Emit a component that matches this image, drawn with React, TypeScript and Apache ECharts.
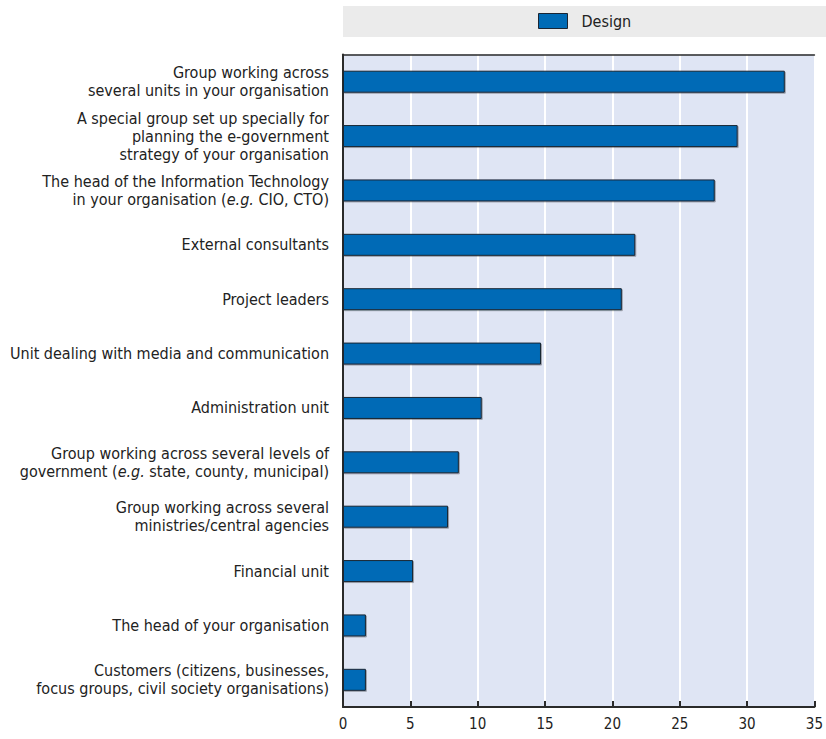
import React, { useEffect, useRef } from "react";
import * as echarts from "echarts";

const categories: string[] = [
  "Group working across\nseveral units in your organisation",
  "A special group set up specially for\nplanning the e-government\nstrategy of your organisation",
  "The head of the Information Technology\nin your organisation ({i|e.g.} CIO, CTO)",
  "External consultants",
  "Project leaders",
  "Unit dealing with media and communication",
  "Administration unit",
  "Group working across several levels of\ngovernment ({i|e.g.} state, county, municipal)",
  "Group working across several\nministries/central agencies",
  "Financial unit",
  "The head of your organisation",
  "Customers (citizens, businesses,\nfocus groups, civil society organisations)",
];

const seriesName = "Design";
const designValues: number[] = [32.8, 29.3, 27.6, 21.7, 20.7, 14.7, 10.3, 8.6, 7.8, 5.2, 1.7, 1.7];

const FONT = "'DejaVu Sans Condensed', 'Liberation Sans', sans-serif";

export default function App() {
  const ref = useRef<HTMLDivElement>(null);
  useEffect(() => {
    document.body.style.margin = "0";
    if (!ref.current) return;
    const chart = echarts.init(ref.current, undefined, { renderer: "svg" });
    const textColor = "#222222";
    chart.setOption({
      animation: false,
      graphic: [
        {
          type: "rect",
          left: 343,
          top: 6,
          shape: { width: 483, height: 31 },
          style: { fill: "#ebebeb" },
          z: -1,
        },
      ],
      legend: {
        data: [seriesName],
        left: 533,
        top: 8,
        itemWidth: 29,
        itemHeight: 15,
        icon: "rect",
        itemStyle: { borderColor: "#1a2533", borderWidth: 1 },
        textStyle: { fontFamily: FONT, fontSize: 16, color: textColor, padding: [0, 0, 0, 9] },
      },
      grid: { left: 343, right: 0.5, top: 54.5, bottom: 32, containLabel: false, show: true, backgroundColor: "#dfe5f4", borderWidth: 0 },
      xAxis: [
        {
          type: "value",
          min: 0,
          max: 35,
          interval: 5,
          position: "bottom",
          axisLine: { show: true, lineStyle: { color: "#2a2a2a", width: 2 } },
          axisTick: { show: true, inside: true, length: 6, lineStyle: { color: "#2a2a2a", width: 2 } },
          axisLabel: { fontFamily: FONT, fontSize: 15, color: textColor, margin: 9 },
          splitLine: { show: true, lineStyle: { color: "#ffffff", width: 2 } },
        },
        {
          type: "value",
          min: 0,
          max: 35,
          interval: 5,
          position: "top",
          axisLine: { show: true, onZero: false, lineStyle: { color: "#2a2a2a", width: 1.5 } },
          axisTick: { show: false },
          axisLabel: { show: false },
          splitLine: { show: false },
        },
      ],
      yAxis: {
        type: "category",
        inverse: true,
        data: categories,
        axisLine: { show: true, lineStyle: { color: "#2a2a2a", width: 2 } },
        axisTick: { show: false },
        axisLabel: {
          fontFamily: FONT,
          fontSize: 16,
          lineHeight: 18,
          color: textColor,
          margin: 14,
          align: "right",
          rich: {
            i: { fontFamily: FONT, fontSize: 16, lineHeight: 18, color: textColor, fontStyle: "italic" },
          },
        },
      },
      series: [
        {
          name: seriesName,
          type: "bar",
          xAxisIndex: 0,
          data: designValues,
          barWidth: 22,
          itemStyle: {
            color: "#006bb6",
            borderColor: "#1a2533",
            borderWidth: 1,
            shadowColor: "rgba(0,0,0,0.3)",
            shadowOffsetX: 1,
            shadowOffsetY: 1,
            shadowBlur: 0,
          },
        },
      ],
    });
    return () => chart.dispose();
  }, []);
  return <div ref={ref} style={{ width: 826, height: 739 }} />;
}
